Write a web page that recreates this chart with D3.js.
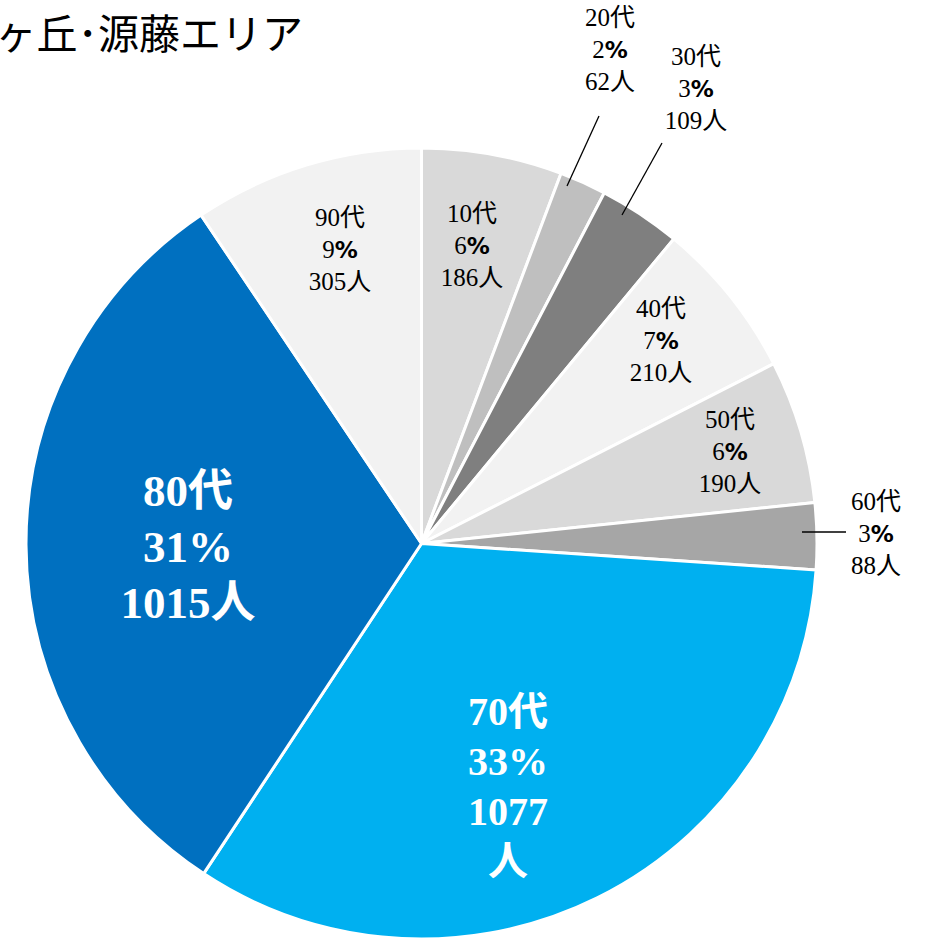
<!DOCTYPE html>
<html><head><meta charset="utf-8">
<script src="https://cdn.jsdelivr.net/npm/d3@7"></script>
<style>body{margin:0;background:#fff;overflow:hidden}</style>
</head><body>
<svg id="c" width="926" height="939"></svg>
<script>
const title = "ヶ丘･源藤エリア";
const categories = ["10代","20代","30代","40代","50代","60代","70代","80代","90代"];
const values = [186, 62, 109, 210, 190, 88, 1077, 1015, 305];
const percents = ["6","2","3","7","6","3","33","31","9"];
const colors = ["#d9d9d9","#bfbfbf","#7f7f7f","#f2f2f2","#d9d9d9","#a6a6a6","#00b0f0","#0070c0","#f2f2f2"];
// label placement (centre of text block) and style per slice
const labelPos = [[472,245],[610,49],[696,88],[661,340],[730,451],[876,533],[508,786],[188,546],[340,249]];
const bigLabel = [false,false,false,false,false,false,true,true,false];
const leaders = [null,[[599,116],[567,186]],[[662,143],[622,215]],null,null,[[802,532],[846,532]],null,null,null];

const svg = d3.select("#c");
const cx = 421.5, cy = 543.5, r = 395.5;

svg.append("text").attr("x",303).attr("y",49).attr("text-anchor","end")
  .attr("font-family","'Noto Sans CJK JP', sans-serif").attr("font-size",41).attr("fill","#000")
  .text(title);

const data = categories.map((c,i)=>({cat:c, value:values[i], pct:percents[i], color:colors[i], i}));
const pie = d3.pie().value(d=>d.value).sort(null);
const arc = d3.arc().innerRadius(0).outerRadius(r);
const g = svg.append("g").attr("transform",`translate(${cx},${cy})`);
g.selectAll("path").data(pie(data)).enter().append("path")
  .attr("d",arc).attr("fill",d=>d.data.color).attr("stroke","#fff").attr("stroke-width",3).attr("stroke-linejoin","round");

leaders.forEach(l=>{ if(!l) return;
  svg.append("line").attr("x1",l[0][0]).attr("y1",l[0][1]).attr("x2",l[1][0]).attr("y2",l[1][1])
    .attr("stroke","#000").attr("stroke-width",1.3);
});

data.forEach((d,i)=>{
  const big = bigLabel[i];
  const [x,y] = labelPos[i];
  const lines = big && i===6
    ? [[d.cat],[d.pct,"%"],[d.value+""],["人"]]
    : [[d.cat],[d.pct,"%"],[d.value+"人"]];
  const fs = big ? (i===7?45:40) : 25;
  const lh = big ? (i===7?56:50) : 32;
  const t = svg.append("text").attr("text-anchor","middle")
    .attr("font-family","'Liberation Serif','Noto Sans CJK JP', serif")
    .attr("font-size",fs).attr("font-weight",big?"bold":"normal")
    .attr("fill",big?"#fff":"#000");
  const n = lines.length;
  lines.forEach((ln,k)=>{
    const yy = y + (k-(n-1)/2)*lh + fs*0.35;
    t.append("tspan").attr("x",x).attr("y",yy).text(ln[0]);
    if(ln[1]) t.append("tspan").attr("font-family", big ? "'Liberation Serif', serif" : "'DejaVu Sans', sans-serif")
      .attr("font-weight","bold").attr("font-size", big?fs:fs*0.92).text(ln[1]);
  });
});
</script>
</body></html>
